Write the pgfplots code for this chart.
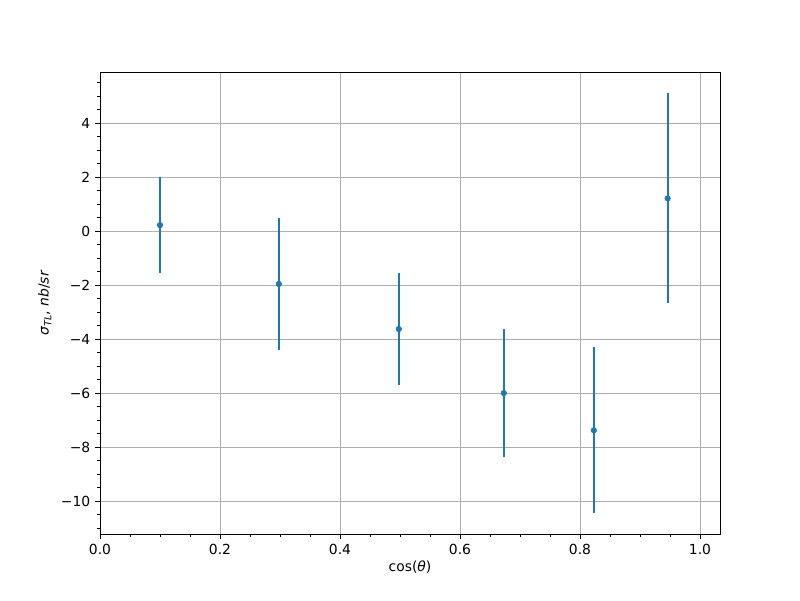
\documentclass[border=0pt]{standalone}
\usepackage{pgfplots}
\pgfplotsset{compat=1.18}
\usepackage{fontspec}
\setmainfont{DejaVu Sans}
\definecolor{mplblue}{HTML}{1F77B4}
\definecolor{gridgray}{HTML}{B0B0B0}
\begin{document}
\begin{tikzpicture}
\useasboundingbox (-72pt,-47.52pt) rectangle (504pt,384.48pt);
\begin{axis}[
  at={(0pt,0pt)}, anchor=south west,
  scale only axis,
  width=446.4pt, height=332.64pt,
  xmin=0, xmax=1.0333,
  ymin=-11.22, ymax=5.89,
  xtick={0,0.2,0.4,0.6,0.8,1.0},
  xticklabels={0.0,0.2,0.4,0.6,0.8,1.0},
  ytick={-10,-8,-6,-4,-2,0,2,4},
  yticklabels={−10,−8,−6,−4,−2,0,2,4},
  minor xtick={0.05,0.1,0.15,0.25,0.3,0.35,0.45,0.5,0.55,0.65,0.7,0.75,0.85,0.9,0.95},
  minor ytick={-11,-10.5,-9.5,-9,-8.5,-7.5,-7,-6.5,-5.5,-5,-4.5,-3.5,-3,-2.5,-1.5,-1,-0.5,0.5,1,1.5,2.5,3,3.5,4.5,5,5.5},
  tick align=outside,
  major tick length=3.5pt,
  minor tick length=2pt,
  tick style={black, line width=0.7pt},
  minor tick style={black, line width=0.5pt},
  xtick pos=bottom, ytick pos=left,
  xmajorgrids, ymajorgrids,
  major grid style={gridgray, line width=0.6pt},
  axis line style={black, line width=0.7pt},
  tick label style={font=\fontsize{10}{12}\selectfont},
  label style={font=\fontsize{10}{12}\selectfont},
  xlabel={cos(\textit{θ})},
  ylabel={\textit{σ}\raisebox{-0.35ex}{\fontsize{7}{8}\selectfont\textit{TL}}, \textit{nb}/\textit{sr}},
  xlabel style={yshift=2pt},
  ylabel style={yshift=0pt},
]
\addplot[
  only marks, mark=*, mark size=2pt, color=mplblue,
  error bars/.cd, y dir=both, y explicit,
  error mark=none,
  error bar style={line width=1.5pt, mplblue},
] coordinates {
  (0.1, 0.22) +- (0, 1.79)
  (0.298, -1.96) +- (0, 2.43)
  (0.498, -3.63) +- (0, 2.07)
  (0.673, -6.0) +- (0, 2.37)
  (0.823, -7.38) +- (0, 3.07)
  (0.946, 1.21) +- (0, 3.89)
};
\end{axis}
\end{tikzpicture}
\end{document}
